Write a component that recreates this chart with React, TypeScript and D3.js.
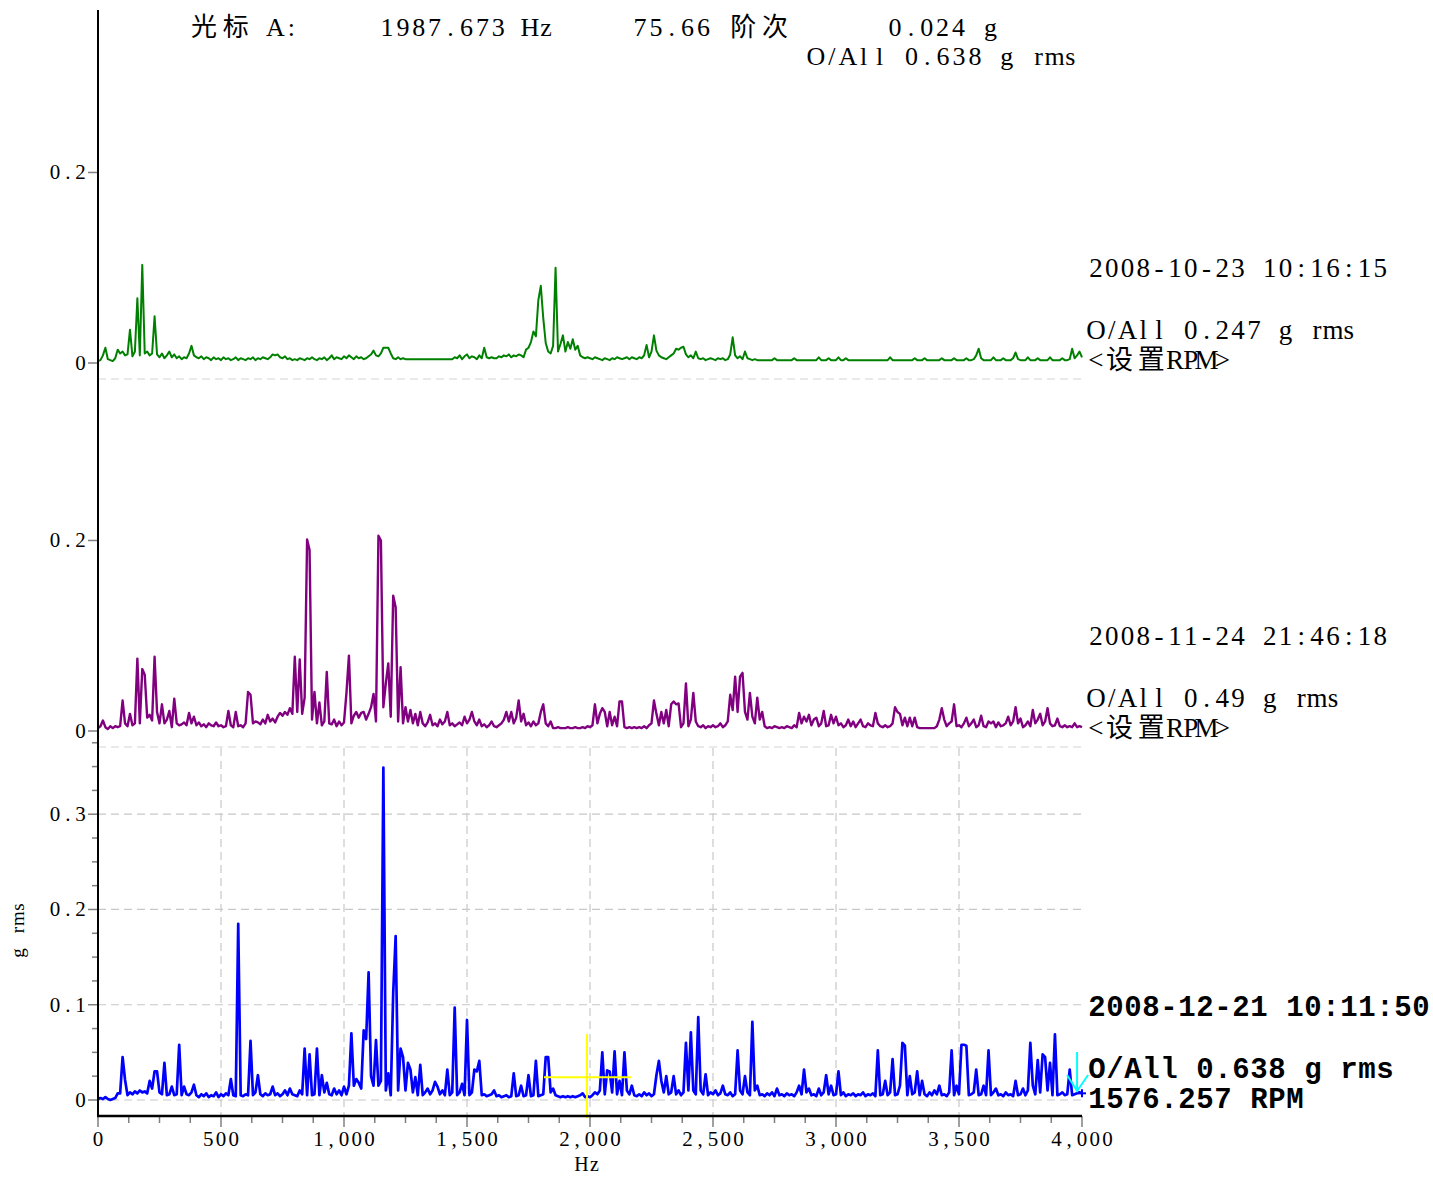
import React from 'react';
import * as d3 from 'd3';

// Spectrum amplitudes in milli-g rms, one value every 10 Hz from 0 to 4000 Hz
const FREQ_STEP = 10;

const greenMg = [
  2,3,8,16,4,3,2,5,14,10,
  12,8,9,35,7,12,68,8,103,10,
  12,8,10,49,9,6,10,5,8,12,
  6,9,5,7,4,6,5,10,18,8,
  6,5,7,4,6,5,3,6,4,5,
  3,6,4,5,3,4,6,3,5,4,
  3,5,4,6,3,5,4,6,5,4,
  6,9,8,9,6,5,7,4,5,3,
  4,3,5,4,3,5,4,6,4,3,
  5,4,6,3,5,8,4,6,5,4,
  7,5,8,6,4,7,5,6,4,5,
  7,9,13,8,7,10,16,16,16,10,
  5,4,6,4,5,4,4,4,4,4,
  4,4,4,4,4,4,4,4,4,4,
  4,4,4,4,4,6,5,8,4,7,
  9,5,7,6,4,8,5,16,6,5,
  6,5,5,7,6,8,7,9,6,8,
  7,9,8,6,14,16,22,33,28,66,
  81,47,21,12,10,18,100,12,20,29,
  12,22,15,25,14,18,8,6,5,6,
  5,4,6,5,4,3,5,4,3,5,
  4,6,5,4,5,6,4,6,5,4,
  6,5,8,19,6,12,29,13,8,6,
  5,4,6,8,10,15,14,16,17,9,
  6,8,5,12,5,4,5,3,4,5,
  4,3,5,4,5,3,4,9,27,8,
  5,7,4,12,5,4,3,4,3,3,
  3,3,3,3,3,5,3,3,3,3,
  3,3,3,5,3,3,3,3,3,3,
  3,3,3,6,3,3,3,5,3,3,
  3,6,3,3,5,3,3,3,3,3,
  3,3,3,3,3,3,3,3,3,3,
  3,3,6,3,3,3,3,3,3,3,
  3,3,5,3,3,3,5,3,3,3,
  3,3,3,5,3,3,3,3,5,3,
  3,3,3,5,3,3,4,8,15,5,
  3,3,3,3,6,3,3,3,5,3,
  3,3,5,11,4,3,3,3,6,3,
  3,3,5,3,3,3,3,6,3,3,
  3,3,5,3,3,4,15,5,8,12,
  6,
];

const purpleMg = [
  3,5,11,4,2,5,3,5,4,5,
  32,8,5,18,6,8,76,8,65,59,
  14,17,11,78,20,8,28,8,12,21,
  4,34,8,6,7,9,6,19,8,15,
  6,9,5,7,4,8,6,5,9,5,
  6,4,5,21,6,4,20,5,6,4,
  8,41,38,8,10,9,7,12,8,17,
  10,13,9,15,19,16,20,17,24,18,
  78,20,75,18,35,201,190,12,41,8,
  30,6,10,62,8,7,12,5,10,6,
  9,40,79,8,16,20,14,19,20,12,
  18,25,39,10,205,200,25,50,71,15,
  142,130,10,67,8,25,10,22,8,18,
  6,20,8,5,9,17,6,8,5,12,
  7,10,20,6,8,5,7,9,6,15,
  8,12,20,10,6,12,5,7,4,6,
  10,5,4,6,8,12,20,10,20,8,
  14,32,10,18,6,9,5,10,6,8,
  20,28,8,5,10,3,3,4,3,3,
  3,4,3,3,4,3,3,4,3,5,
  4,6,28,8,18,24,20,5,20,6,
  15,5,31,31,4,3,4,3,4,3,
  4,3,5,3,6,8,32,18,6,20,
  8,22,5,28,31,28,29,4,8,50,
  5,12,40,10,5,4,6,3,5,4,
  6,4,5,8,4,6,10,38,22,57,
  20,57,61,20,12,40,15,8,35,12,
  20,5,3,4,3,5,4,3,4,3,
  5,4,3,6,4,19,8,15,10,17,
  6,12,14,5,8,21,5,6,17,8,
  15,6,8,4,6,12,5,10,4,8,
  12,5,4,8,6,5,19,8,5,4,
  6,4,5,8,25,20,18,6,14,5,
  14,5,14,4,3,3,3,3,3,3,
  3,5,12,24,12,5,8,10,28,5,
  6,4,8,14,5,8,12,4,6,16,
  5,4,10,8,10,4,9,5,6,8,
  15,6,10,25,8,13,4,6,10,5,
  22,8,12,18,6,10,24,8,5,6,
  13,5,4,6,4,5,4,8,4,5,
  4,
];

const blueMg = [
  1,2,1,3,1,0,1,2,7,7,
  45,21,5,8,6,9,7,10,8,9,
  7,20,12,30,30,8,6,39,5,6,
  14,5,6,58,5,14,6,5,8,16,
  5,3,6,4,7,3,5,4,8,3,
  6,4,7,5,22,5,4,185,5,4,
  6,5,62,5,8,26,6,4,7,5,
  6,14,5,7,4,6,10,5,12,6,
  5,4,10,6,54,5,48,5,6,54,
  5,26,8,18,6,5,12,6,10,5,
  14,6,15,70,15,22,18,12,73,64,
  134,25,15,63,15,20,349,10,28,5,
  112,172,10,54,45,10,39,32,8,24,
  5,37,5,8,12,6,10,19,14,6,
  10,5,32,5,8,97,5,8,17,5,
  84,5,8,32,30,41,5,6,4,5,
  6,10,4,5,3,4,5,3,4,28,
  4,5,15,4,5,26,4,5,41,4,
  5,6,45,45,8,12,5,4,3,4,
  3,4,3,4,3,4,5,7,3,4,
  3,5,8,6,10,50,6,31,30,8,
  51,6,20,5,50,10,6,15,5,4,
  6,4,8,5,7,4,6,26,41,20,
  8,25,6,8,25,6,10,5,8,60,
  10,71,10,6,87,10,6,27,5,8,
  6,10,5,7,15,6,5,8,4,6,
  52,10,6,25,8,5,82,10,15,5,
  6,4,7,5,8,4,12,5,6,4,
  7,5,6,4,8,15,6,32,8,12,
  5,6,4,12,5,8,26,6,15,5,
  6,30,5,8,4,6,5,7,4,6,
  5,8,4,6,5,7,4,52,5,6,
  20,5,8,43,5,6,15,60,57,5,
  25,6,8,30,5,20,6,4,8,5,
  10,6,15,5,6,4,8,52,5,15,
  6,58,58,57,5,6,8,32,5,6,
  15,5,52,5,8,12,5,6,4,8,
  5,6,4,20,5,6,12,5,10,60,
  15,6,42,8,48,45,10,39,5,69,
  5,6,8,5,6,32,5,6,7,8,
  7,
];

const xTicks = [0, 500, 1000, 1500, 2000, 2500, 3000, 3500, 4000];
const xTickLabels = ['0', '500', '1,000', '1,500', '2,000', '2,500', '3,000', '3,500', '4,000'];
const upperYTicks = [0, 0.2];
const upperYTickLabels = ['0', '0.2'];
const bottomYTicks = [0, 0.1, 0.2, 0.3];
const bottomYTickLabels = ['0', '0.1', '0.2', '0.3'];

const headerParts = [
  { text: '光标 A:', x: 188 },
  { text: '1987.673 Hz', x: 379 },
  { text: '75.66 阶次', x: 632 },
  { text: '0.024 g', x: 887 },
];
const headerOverall = 'O/All 0.638 g rms';

const seriesInfo = [
  { name: 'green', data: greenMg, color: '#008000', width: 2, date: '2008-10-23 10:16:15', overall: 'O/All 0.247 g rms', rpm: '<设置RPM>', bold: false },
  { name: 'purple', data: purpleMg, color: '#800080', width: 2.4, date: '2008-11-24 21:46:18', overall: 'O/All 0.49 g rms', rpm: '<设置RPM>', bold: false },
  { name: 'blue', data: blueMg, color: '#0000ff', width: 2.7, date: '2008-12-21 10:11:50', overall: 'O/All 0.638 g rms', rpm: '1576.257 RPM', bold: true },
];

const cursorHz = 1987.673;
const cursorG = 0.024;

const SERIF = '"Liberation Serif", "Noto Sans CJK SC", serif';
const MONO_BOLD = '"Liberation Mono", "Noto Sans CJK SC", monospace';

function MonoText({ x, y, text, cell, anchor = 'start', fontSize, family = SERIF, weight = 'normal', fill = '#000', transform }: any) {
  const chars = [...text];
  const widths = chars.map((ch) => (/[\u2E80-\uFFFF]/.test(ch) ? 2 : 1));
  const total = widths.reduce((a, b) => a + b, 0) * cell;
  const start = anchor === 'start' ? x : anchor === 'end' ? x - total : x - total / 2;
  let acc = 0;
  const xs = widths.map((w) => {
    const c = start + (acc + w / 2) * cell;
    acc += w;
    return c.toFixed(1);
  });
  return (
    <text
      x={xs.join(' ')}
      y={y}
      textAnchor="middle"
      fontSize={fontSize}
      fontFamily={family}
      fontWeight={weight}
      fill={fill}
      transform={transform}
      style={{ whiteSpace: 'pre' }}
    >
      {text}
    </text>
  );
}

export default function App() {
  const W = 1433;
  const H = 1177;
  const xLeft = 98;
  const xRight = 1082;
  const x = d3.scaleLinear().domain([0, 4000]).range([xLeft, xRight]);
  const panelBottoms = [379, 747, 1116];
  const panelH = 368;
  const yDomain: [number, number] = [-0.0168, 0.3695];
  const yScales = panelBottoms.map((b) => d3.scaleLinear().domain(yDomain).range([b, b - panelH]));
  const yB = yScales[2];

  const lines = seriesInfo.map((s, i) => {
    const y = yScales[i];
    const gen = d3
      .line<number>()
      .x((_, j) => x(j * FREQ_STEP))
      .y((d) => y(d / 1000));
    return gen(s.data) || '';
  });

  const minorX = d3.range(0, 4001, 125).filter((v) => v % 500 !== 0);
  const minorYBottom = d3.range(0, 0.376, 0.025).filter((v) => Math.abs(v * 10 - Math.round(v * 10)) > 1e-6);
  const gridX = [500, 1000, 1500, 2000, 2500, 3000, 3500];

  const cx = x(cursorHz);
  const cy = yB(cursorG);
  const lastBlue = blueMg[blueMg.length - 1] / 1000;
  const endX = x(4000);
  const endY = yB(lastBlue);
  const arrowX = x(3980);

  return (
    <svg width={W} height={H} style={{ position: 'absolute', left: 0, top: 0, background: '#fff' }}>
      <rect x={0} y={0} width={W} height={H} fill="#fff" />

      {/* bottom panel grid */}
      <g stroke="#c8c8c8" strokeWidth={1.2} strokeDasharray="8,5">
        {gridX.map((v) => (
          <line key={'gx' + v} x1={x(v)} x2={x(v)} y1={panelBottoms[1] + 1} y2={panelBottoms[2]} />
        ))}
        {bottomYTicks.map((v) => (
          <line key={'gy' + v} x1={xLeft} x2={xRight} y1={yB(v)} y2={yB(v)} />
        ))}
        <line x1={xLeft} x2={xRight} y1={panelBottoms[0]} y2={panelBottoms[0]} stroke="#d4d4d4" />
        <line x1={xLeft} x2={xRight} y1={panelBottoms[1]} y2={panelBottoms[1]} stroke="#d4d4d4" />
      </g>

      {/* spectra */}
      {seriesInfo.map((s, i) => (
        <path key={s.name} d={lines[i]} fill="none" stroke={s.color} strokeWidth={s.width} strokeLinejoin="round" />
      ))}
      <g stroke="#0000ff" strokeWidth={2}>
        <line x1={endX - 4} x2={endX + 4} y1={endY} y2={endY} />
        <line x1={endX} x2={endX} y1={endY - 4} y2={endY + 4} />
      </g>

      {/* cursor */}
      <g stroke="#ffff00" strokeWidth={2}>
        <line x1={cx} x2={cx} y1={cy - 43} y2={panelBottoms[2] + 2} />
        <line x1={cx - 43} x2={cx + 44} y1={cy} y2={cy} />
      </g>

      {/* cyan arrow */}
      <g stroke="#00ffff" strokeWidth={2} fill="none">
        <line x1={arrowX} x2={arrowX} y1={1052} y2={1091} />
        <polyline points={`${arrowX - 10},${1075} ${arrowX},${1091} ${arrowX + 11},${1075}`} />
      </g>

      {/* y ticks, upper panels */}
      {[0, 1].map((p) =>
        upperYTicks.map((v, k) => (
          <g key={'uy' + p + '-' + k}>
            <line x1={88} x2={xLeft} y1={yScales[p](v)} y2={yScales[p](v)} stroke="#808080" strokeWidth={1.5} />
            <MonoText x={87} y={yScales[p](v) + 7} text={upperYTickLabels[k]} cell={12.8} anchor="end" fontSize={21} />
          </g>
        ))
      )}

      {/* y ticks, bottom panel */}
      {minorYBottom.map((v) => (
        <line key={'my' + v} x1={92} x2={xLeft} y1={yB(v)} y2={yB(v)} stroke="#808080" strokeWidth={1.5} />
      ))}
      {bottomYTicks.map((v, k) => (
        <g key={'by' + k}>
          <line x1={88} x2={xLeft} y1={yB(v)} y2={yB(v)} stroke="#808080" strokeWidth={1.5} />
          <MonoText x={87} y={yB(v) + 7} text={bottomYTickLabels[k]} cell={12.8} anchor="end" fontSize={21} />
        </g>
      ))}

      {/* x ticks */}
      {minorX.map((v) => (
        <line key={'mx' + v} x1={x(v)} x2={x(v)} y1={panelBottoms[2]} y2={panelBottoms[2] + 7} stroke="#808080" strokeWidth={1.5} />
      ))}
      {xTicks.map((v, k) => (
        <g key={'xt' + v}>
          <line x1={x(v)} x2={x(v)} y1={panelBottoms[2]} y2={panelBottoms[2] + 11} stroke="#808080" strokeWidth={1.5} />
          <MonoText x={x(v)} y={1146} text={xTickLabels[k]} cell={12.8} anchor="middle" fontSize={21} />
        </g>
      ))}

      {/* axes */}
      <line x1={xLeft} x2={xLeft} y1={10} y2={panelBottoms[2] + 1} stroke="#000" strokeWidth={2} />
      <line x1={xLeft - 1} x2={xRight} y1={panelBottoms[2]} y2={panelBottoms[2]} stroke="#000" strokeWidth={2.5} />

      {/* axis titles */}
      <MonoText x={588} y={1171} text="Hz" cell={12.8} anchor="middle" fontSize={20} />
      <MonoText x={18} y={936} text="g rms" cell={11.5} anchor="middle" fontSize={19} transform="rotate(-90 18 930)" />

      {/* header */}
      {headerParts.map((p) => (
        <MonoText key={p.text} x={p.x} y={36} text={p.text} cell={15.9} fontSize={26} />
      ))}
      <MonoText x={808} y={65} text={headerOverall} cell={15.9} fontSize={26} />

      {/* right annotations */}
      {seriesInfo.map((s, i) => {
        const zero = yScales[i](0);
        if (s.bold) {
          return (
            <g key={'ann' + i}>
              <MonoText x={1088} y={zero - 84} text={s.date} cell={18} fontSize={29} family={MONO_BOLD} weight="bold" />
              <MonoText x={1088} y={zero - 22} text={s.overall} cell={18} fontSize={29} family={MONO_BOLD} weight="bold" />
              <MonoText x={1088} y={zero + 8} text={s.rpm} cell={18} fontSize={29} family={MONO_BOLD} weight="bold" />
            </g>
          );
        }
        return (
          <g key={'ann' + i}>
            <MonoText x={1088} y={zero - 86} text={s.date} cell={15.8} fontSize={27} />
            <MonoText x={1088} y={zero - 24} text={s.overall} cell={15.8} fontSize={27} />
            <MonoText x={1088} y={zero + 6} text={s.rpm} cell={15.8} fontSize={27} />
          </g>
        );
      })}
    </svg>
  );
}
